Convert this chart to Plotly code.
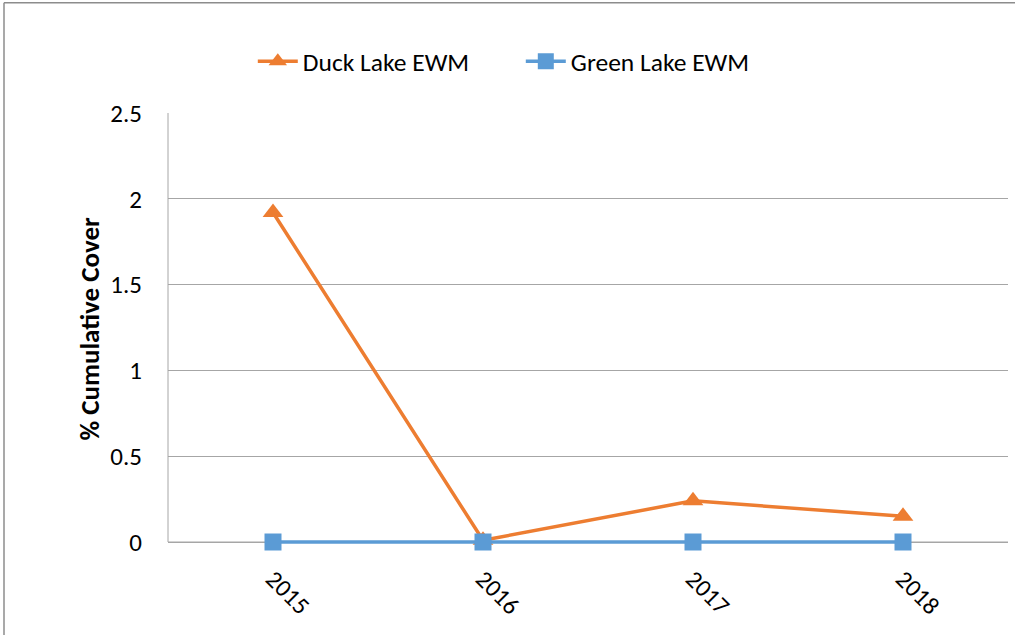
import plotly.graph_objects as go

years = ["2015", "2016", "2017", "2018"]
duck_ewm = [1.92, 0.01, 0.24, 0.15]
green_ewm = [0, 0, 0, 0]

FONT = "Carlito, Lato, 'Open Sans', sans-serif"
ORANGE = "#ED7D31"
BLUE = "#5B9BD5"

fig = go.Figure()
fig.add_trace(go.Scatter(
    x=years, y=duck_ewm, name="Duck Lake EWM", mode="lines+markers",
    line=dict(color=ORANGE, width=3.5),
    marker=dict(symbol="triangle-up", size=18, color=ORANGE),
    cliponaxis=False,
))
fig.add_trace(go.Scatter(
    x=years, y=green_ewm, name="Green Lake EWM", mode="lines+markers",
    line=dict(color=BLUE, width=3.5),
    marker=dict(symbol="square", size=17, color=BLUE),
    cliponaxis=False,
))

# plot area: 2.5 units over 429 px, with a small strip below 0 so the zero line is not clipped
fig.update_layout(
    width=1015, height=635,
    margin=dict(l=168, r=7, t=113, b=90, autoexpand=False),
    paper_bgcolor="white", plot_bgcolor="white",
    font=dict(family=FONT, size=24, color="#000000"),
    showlegend=True,
    legend=dict(orientation="h", x=0.420, y=1.119, xanchor="center", yanchor="middle",
                font=dict(size=25.5), itemwidth=40, entrywidth=213, entrywidthmode="pixels",
                bgcolor="rgba(0,0,0,0)"),
    xaxis=dict(type="category", range=[-0.5, 3.5], tickangle=45,
               showgrid=False, showline=False, zeroline=False,
               ticks="outside", ticklen=9, tickcolor="rgba(0,0,0,0)",
               tickfont=dict(size=24.5)),
    yaxis=dict(range=[-0.0175, 2.5], tickvals=[0, 0.5, 1, 1.5, 2, 2.5],
               ticktext=["0", "0.5", "1", "1.5", "2", "2.5"],
               showgrid=True, gridcolor="#A6A6A6", gridwidth=1,
               showline=False, zeroline=False,
               ticks="outside", ticklen=20, tickcolor="rgba(0,0,0,0)",
               tickfont=dict(size=25),
               title=dict(text="<b>% Cumulative Cover</b>", font=dict(size=27), standoff=2)),
    shapes=[
        dict(type="line", xref="paper", yref="paper", x0=(4-168)/840, x1=1.02, y0=1.255, y1=1.255,
             line=dict(color="#8C8C8C", width=1.5)),
        dict(type="line", xref="paper", yref="paper", x0=(4-168)/840, x1=(4-168)/840, y0=-0.3, y1=1.255,
             line=dict(color="#8C8C8C", width=1.5)),
        dict(type="line", xref="paper", yref="y", x0=0, x1=0, y0=0, y1=2.5,
             line=dict(color="#A6A6A6", width=1), layer="below"),
        dict(type="line", xref="paper", yref="y", x0=0, x1=1, y0=0, y1=0,
             line=dict(color="#A6A6A6", width=1), layer="below"),
    ],
)

fig.write_html("out.html", config={"displayModeBar": False},
               post_script="document.body.style.margin='0';document.body.style.overflow='hidden';")
